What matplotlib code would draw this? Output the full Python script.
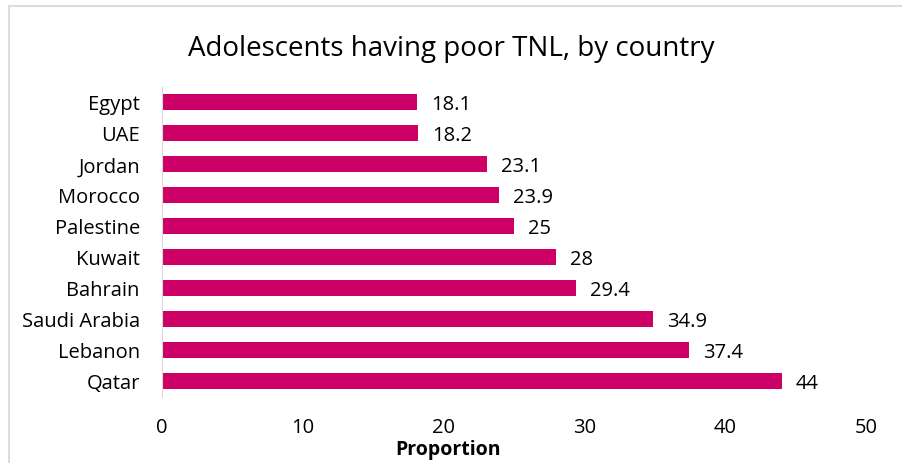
import matplotlib.pyplot as plt
from matplotlib.patches import Rectangle

countries = ["Egypt", "UAE", "Jordan", "Morocco", "Palestine", "Kuwait",
             "Bahrain", "Saudi Arabia", "Lebanon", "Qatar"]
values = [18.1, 18.2, 23.1, 23.9, 25, 28, 29.4, 34.9, 37.4, 44]
labels = ["18.1", "18.2", "23.1", "23.9", "25", "28", "29.4", "34.9", "37.4", "44"]
xticks = [0, 10, 20, 30, 40, 50]

plt.rcParams['font.family'] = ['Open Sans', 'DejaVu Sans']

fig = plt.figure(figsize=(9.03, 4.64), dpi=100)
ax = fig.add_axes([162/903, 1 - 397.5/464, 704/903, 310/464])

y = list(range(len(countries)))
ax.barh(y, values, height=0.5, color="#CC0066")
ax.set_ylim(len(countries) - 0.5, -0.5)
ax.set_xlim(0, 50)
ax.set_yticks(y)
ax.set_yticklabels(countries, fontsize=14.5)
ax.set_xticks(xticks)
ax.set_xticklabels([str(t) for t in xticks], fontsize=14.5)
ax.tick_params(axis='y', length=0, pad=16)
ax.tick_params(axis='x', length=0, pad=15)

for sp in ["top", "right", "bottom"]:
    ax.spines[sp].set_visible(False)
ax.spines["left"].set_color("#D9D9D9")

for yi, v, lab in zip(y, values, labels):
    ax.text(v + 1.0, yi + 0.08, lab, va="center", ha="left", fontsize=14.5)

ax.set_xlabel("Proportion", fontsize=14, fontweight="bold")
ax.xaxis.set_label_coords(0.406, -0.168)
ax.xaxis.label.set_va("center")
fig.text(0.5, 1 - 49/464, "Adolescents having poor TNL, by country",
         ha="center", va="center", fontsize=20)

fig.add_artist(Rectangle((8.5/903, -0.05), 1.0, 1.05 - 6.5/464,
                         transform=fig.transFigure, fill=False,
                         edgecolor="#D9DCE2", linewidth=1.5))

fig.savefig("out.png", dpi=100)
